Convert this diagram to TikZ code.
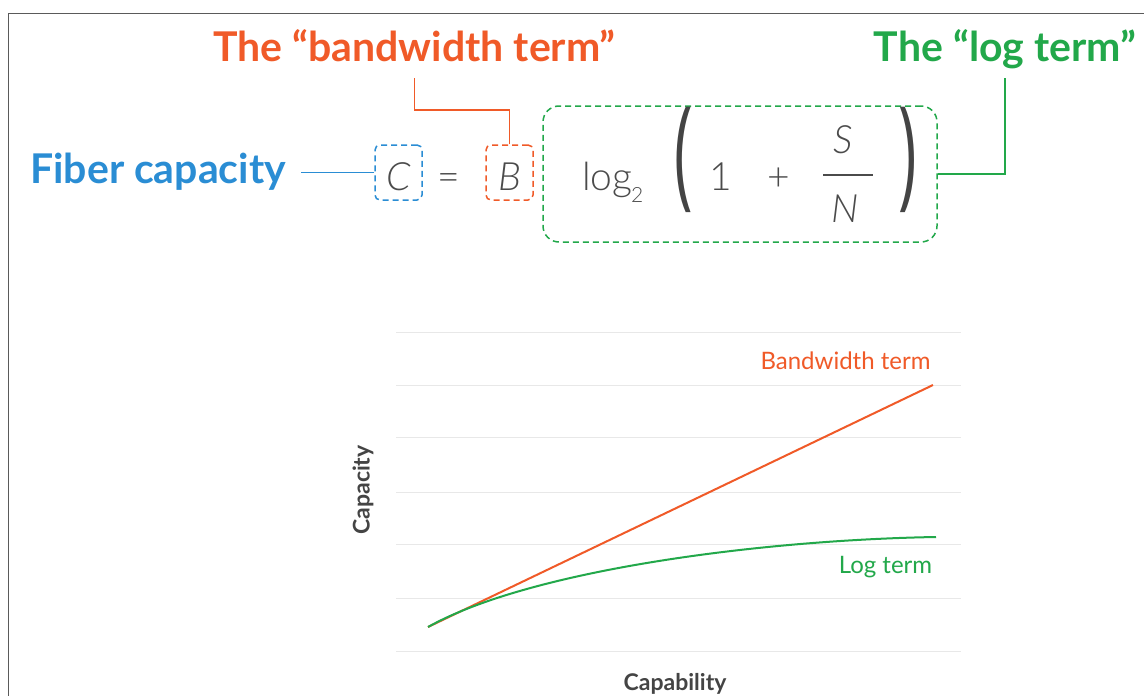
\documentclass[tikz,border=0pt]{standalone}
\usepackage{fontspec}
\usepackage{graphicx}
\setmainfont{Lato}
\IfFontExistsTF{Lato Light}{\newfontfamily\formfont{Lato Light}}{\newfontfamily\formfont{Lato}}
\newfontfamily\parenfont{Open Sans}
\definecolor{bworange}{RGB}{240,90,40}
\definecolor{loggreen}{RGB}{34,168,74}
\definecolor{capblue}{RGB}{42,141,212}
\definecolor{formgray}{RGB}{75,75,75}
\definecolor{axisgray}{RGB}{68,68,68}
\definecolor{gridgray}{RGB}{232,232,232}
\definecolor{framegray}{RGB}{90,90,90}
\tikzset{
  title/.style={font=\bfseries\fontsize{41}{46}\selectfont, inner sep=0pt, anchor=base},
  form/.style={font=\formfont\fontsize{39}{44}\selectfont, text=formgray, inner sep=0pt, anchor=base},
  paren/.style={font=\parenfont\fontsize{39}{44}\selectfont, text=formgray!90!black, inner sep=0pt, anchor=center},
  dbox/.style={draw, dashed, dash pattern=on 6pt off 4pt, line width=1.5pt, rounded corners=5pt,
    minimum width=47pt, minimum height=55pt, inner sep=0pt, text height=35pt, text depth=0pt,
    font=\formfont\itshape\fontsize{39}{44}\selectfont, text=formgray},
  conn/.style={line width=1.6pt},
  gridline/.style={gridgray, line width=1pt},
  curve/.style={line width=2pt},
  chartlbl/.style={font=\fontsize{24}{28}\selectfont, inner sep=0pt, anchor=base},
  axislbl/.style={font=\bfseries\fontsize{23}{28}\selectfont, text=axisgray, inner sep=0pt}
}
\begin{document}
\begin{tikzpicture}[x=1pt,y=-1pt]
\useasboundingbox (0,0) rectangle (1144,696);
\fill[white] (0,0) rectangle (1144,696);
% frame
\draw[framegray, line width=1.6pt] (8.5,696) -- (8.5,13.5) -- (1144,13.5);

% titles
\node[title, text=bworange] (bw) at (414.5,61) {The “bandwidth term”};
\node[title, text=loggreen] (lt) at (1005,61) {The “log term”};
\node[title, text=capblue, anchor=base west] (fiber) at (30,183) {Fiber capacity};

% formula
\node[dbox, capblue] (cbox) at (398.5,172.5) {\textcolor{formgray}{C}};
\node[dbox, bworange] (bbox) at (509.5,172.5) {\textcolor{formgray}{B}};
\node[form] (eq) at (448.5,190) {=};
\node[draw=loggreen, dashed, dash pattern=on 6pt off 4pt, line width=1.5pt, rounded corners=16pt,
  minimum width=394pt, minimum height=136pt] (gbox) at (740,174) {};
\node[form, anchor=base west] (log) at (582,190) {log};
\node[form, anchor=base west, font=\formfont\fontsize{21}{24}\selectfont] (sub) at (631,202) {2};
\node[paren] (lp) at (684,160) {\scalebox{1.6}[3.1]{(}};
\node[form] (one) at (721,190) {1};
\node[form] (plus) at (778.5,190) {+};
\node[form, font=\formfont\itshape\fontsize{39}{44}\selectfont] (S) at (843,153) {S};
\node[form, font=\formfont\itshape\fontsize{39}{44}\selectfont] (N) at (845,222) {N};
\draw[formgray, line width=2pt] (823,175) -- (873,175);
\node[paren] (rp) at (907.5,160) {\scalebox{1.6}[3.1]{)}};

% connectors
\draw[conn, capblue, shorten >=15pt] (cbox.west) -- (cbox.west -| fiber.east);
\draw[conn, bworange, shorten >=16pt] (bbox.north) -- ++(0,-34) -| (bw.south);
\draw[conn, loggreen, shorten >=9pt] (gbox.east) -| (lt.south);

% chart grid
\foreach \yy in {332,385,437,492,544,598,651}
  \draw[gridline] (396,\yy) -- (961,\yy);

% curves
\coordinate (o) at (428,627);
\coordinate (bwend) at (933,385);
\coordinate (lgend) at (936,537);
\draw[curve, bworange] (o) -- (bwend);
\draw[curve, loggreen] (o) .. controls (530,570) and (760,540) .. (lgend);

% chart labels
\node[chartlbl, text=bworange] (bwl) at (845.5,369) {Bandwidth term};
\node[chartlbl, text=loggreen] (lgl) at (885.5,573) {Log term};
\node[axislbl, rotate=90] (ylab) at (363,490) {Capacity};
\node[axislbl, anchor=base] (xlab) at (675,690) {Capability};
\end{tikzpicture}
\end{document}
